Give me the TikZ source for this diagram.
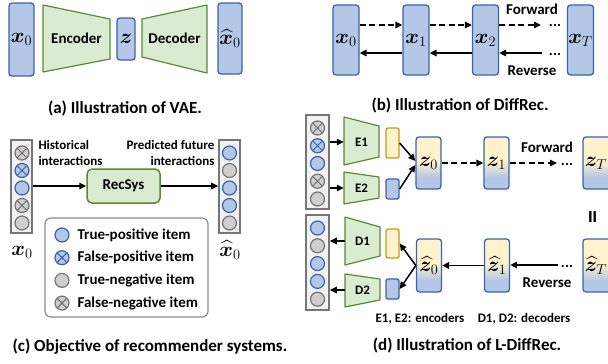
\documentclass[tikz,border=0pt]{standalone}
\usepackage[no-math]{fontspec}
\setmainfont{Carlito}
\usepackage{amsmath}
\usepackage{bm}
\usetikzlibrary{arrows.meta,calc,positioning}

\definecolor{vecfill}{HTML}{B4C7E7}
\definecolor{vecline}{HTML}{3B63AD}
\definecolor{encfill}{HTML}{D9ECD2}
\definecolor{encline}{HTML}{5A8B33}
\definecolor{latfill}{HTML}{FFF2CC}
\definecolor{latline}{HTML}{C49A12}
\definecolor{colfill}{HTML}{F2F2F2}
\definecolor{colline}{HTML}{767676}
\definecolor{negfill}{HTML}{D0CECE}
\definecolor{legline}{HTML}{8C8C8C}

\pgfdeclareverticalshading{zshade}{100bp}{color(0bp)=(vecfill); color(36bp)=(vecfill); color(52bp)=(latfill); color(100bp)=(latfill)}

\begin{document}
\begin{tikzpicture}[x=1pt, y=-1pt, >={Triangle[length=7pt, width=6.5pt]},
    font=\bfseries\fontsize{15}{18}\selectfont,
    vbox/.style={draw=vecline, fill=vecfill, rounded corners=3pt, line width=1.3pt, inner sep=0pt, font=\fontsize{21}{22}\selectfont},
    zbox/.style={draw=vecline, shade, shading=zshade, rounded corners=3pt, line width=1.3pt, inner sep=0pt, minimum width=25, minimum height=52, font=\fontsize{21}{22}\selectfont},
    lat/.style={draw=latline, fill=latfill, rounded corners=2pt, line width=1.3pt, inner sep=0pt, minimum width=13},
    lvec/.style={lat, draw=vecline, fill=vecfill},
    enc/.style={draw=encline, fill=encfill, line width=1.2pt, line join=round},
    col/.style={draw=colline, fill=colfill, line width=1.6pt, inner sep=0pt},
    tpitem/.style={circle, draw=vecline, fill=vecfill, line width=1.2pt, minimum size=14, inner sep=0pt},
    tnitem/.style={tpitem, draw=colline, fill=negfill},
    crossed/.style={path picture={\draw[#1, line width=1pt] (path picture bounding box.north west) -- (path picture bounding box.south east) (path picture bounding box.north east) -- (path picture bounding box.south west);}},
    fpitem/.style={tpitem, crossed=vecline},
    fnitem/.style={tnitem, crossed=colline!90!black},
    arr/.style={->, line width=1.5pt},
    darr/.style={arr, dash pattern=on 6pt off 3.5pt},
    mathlbl/.style={font=\fontsize{21}{22}\selectfont},
    small/.style={font=\bfseries\fontsize{13}{16}\selectfont},
    captxt/.style={font=\bfseries\fontsize{17}{20}\selectfont}]
\clip (0,0) rectangle (608,364);

% (a) VAE
\node[vbox, minimum width=25, minimum height=73] (ax0) at (21.5,39.5) {$\bm{x}_0$};
\draw[enc] (43,5) -- (110,19) -- (110,59) -- (43,72) -- cycle;
\node (aenc) at (76.5,38.5) {Encoder};
\node[vbox, minimum width=18, minimum height=42] (az) at (126,39) {$\bm{z}$};
\draw[enc] (142,19) -- (207,5) -- (207,73) -- (142,57) -- cycle;
\node (adec) at (174.5,38.5) {Decoder};
\node[vbox, minimum width=24, minimum height=71] (ax0h) at (230,38.5) {$\widehat{\bm{x}}_0$};
\node[captxt] (capa) at (125,108) {(a) Illustration of VAE.};

% (b) DiffRec
\node[vbox, minimum width=26, minimum height=70] (bx0) at (346,40) {$\bm{x}_0$};
\node[vbox, minimum width=26, minimum height=70] (bx1) at (416,40) {$\bm{x}_1$};
\node[vbox, minimum width=26, minimum height=70] (bx2) at (485.5,40) {$\bm{x}_2$};
\node[vbox, minimum width=26, minimum height=70] (bxT) at (580.5,40) {$\bm{x}_T$};
\coordinate (bfend) at (541,25);
\coordinate (brbeg) at (542,53);
\draw[darr] ([yshift=15]bx0.east) -- ([yshift=15]bx1.west);
\draw[darr] ([yshift=15]bx1.east) -- ([yshift=15]bx2.west);
\draw[darr] ([yshift=15]bx2.east) -- (bfend);
\draw[arr] ([yshift=-13]bx1.west) -- ([yshift=-13]bx0.east);
\draw[arr] ([yshift=-13]bx2.west) -- ([yshift=-13]bx1.east);
\draw[arr] (brbeg) -- ([yshift=-13]bx2.east);
\node[anchor=base] (bfdots) at (555,27) {...};
\node[anchor=base] (brdots) at (555,55) {...};
\node (bfwd) at (532,9) {Forward};
\node (brev) at (532,71) {Reverse};
\node[captxt] (capb) at (460,105) {(b) Illustration of DiffRec.};

% (c) recommender systems
\node[col, minimum width=21, minimum height=93] (cin) at (21.5,186.5) {};
\foreach \t [count=\i from 0] in {fnitem,fpitem,tpitem,fnitem,tnitem}
  \node[\t] (cin\i) at (22,{153+17.5*\i}) {};
\node[col, minimum width=21, minimum height=93] (cout) at (229.5,186.5) {};
\foreach \t [count=\i from 0] in {tpitem,tnitem,tpitem,tpitem,tnitem}
  \node[\t] (cout\i) at (229.5,{153+17.5*\i}) {};
\node[draw=encline, fill=encfill, rounded corners=5pt, line width=1.5pt, minimum width=73, minimum height=34] (recsys) at (123.5,186) {RecSys};
\draw[arr] (cin.east |- recsys) -- (recsys.west);
\draw[arr] (recsys.east) -- (cout.west |- recsys);
\node[small, anchor=west, align=left] (chist) at (35,153) {Historical\\interactions};
\node[small, anchor=east, align=right] (cpred) at (218,153) {Predicted future\\interactions};
\node[mathlbl] (cx0) at (22,252) {$\bm{x}_0$};
\node[mathlbl] (cx0h) at (230,250) {$\widehat{\bm{x}}_0$};
\node[draw=legline, rounded corners=6pt, line width=1.2pt, minimum width=163, minimum height=99] (legend) at (126.5,267.5) {};
\foreach \t/\s [count=\i from 0] in {tpitem/True-positive item, fpitem/False-positive item, tnitem/True-negative item, fnitem/False-negative item} {
  \node[\t] (leg\i) at (62,{235+22.7*\i}) {};
  \node[anchor=west] (legt\i) at (74,{235+22.7*\i}) {\s};
}
\node[captxt] (capc) at (150,347) {(c) Objective of recommender systems.};

% (d) L-DiffRec
\node[col, minimum width=23, minimum height=94] (din) at (317.5,162) {};
\foreach \t [count=\i from 0] in {fnitem,fpitem,tpitem,fnitem,tnitem}
  \node[\t] (din\i) at (317.5,{128+17.75*\i}) {};
\node[col, minimum width=23, minimum height=95] (dout) at (317.5,262.5) {};
\foreach \t [count=\i from 0] in {tpitem,tnitem,tpitem,tpitem,tnitem}
  \node[\t] (dout\i) at (317.5,{228+17.8*\i}) {};
\draw[enc] (344,117) -- (379,126) -- (379,157) -- (344,165) -- cycle;
\node[small, minimum width=35] (e1) at (361.5,142) {E1};
\draw[enc] (344,172) -- (379,177) -- (379,198) -- (344,204) -- cycle;
\node[small, minimum width=35] (e2) at (361.5,188) {E2};
\draw[enc] (345,217) -- (380,227) -- (380,256) -- (345,265) -- cycle;
\node[small, minimum width=35] (d1) at (362.5,241) {D1};
\draw[enc] (345,274) -- (380,279) -- (380,300) -- (345,307) -- cycle;
\node[small, minimum width=35] (d2) at (362.5,290) {D2};
\draw[arr] (din.east |- e1) -- (e1.west);
\draw[arr] (din.east |- e2) -- (e2.west);
\draw[arr] (d1.west) -- (dout.east |- d1);
\draw[arr] (d2.west) -- (dout.east |- d2);
\node[lat, minimum height=30] (o1) at (392.5,143) {};
\node[lvec, minimum height=20] (b1) at (392.5,189) {};
\node[lat, minimum height=29] (o2) at (392.5,243.5) {};
\node[lvec, minimum height=20] (b2) at (392.5,289) {};
\node[zbox] (z0) at (428.5,163) {$\bm{z}_0$};
\node[zbox] (z1) at (496.5,163) {$\bm{z}_1$};
\node[zbox, minimum width=30] (zT) at (598,163) {\hspace*{-4pt}$\bm{z}_T$};
\node[zbox, minimum height=53] (zh0) at (429,265.5) {$\widehat{\bm{z}}_0$};
\node[zbox, minimum height=53] (zh1) at (497,265.5) {$\widehat{\bm{z}}_1$};
\node[zbox, minimum width=30, minimum height=53] (zhT) at (598,265.5) {\hspace*{-4pt}$\widehat{\bm{z}}_T$};
\draw[arr] (o1.east) -- ([yshift=2]z0.west);
\draw[arr] (b1.east) -- ([yshift=-2]z0.west);
\draw[arr] (zh0.west) -- (o2.east);
\draw[arr] (zh0.west) -- (b2.east);
\coordinate (zfend) at (557,163);
\coordinate (zrbeg) at (558,265);
\draw[darr] (z0) -- (z1);
\draw[darr] (z1.east) -- (zfend);
\draw[arr] (zh1) -- (zh0);
\draw[arr] (zrbeg) -- (zh1.east |- zrbeg);
\node[anchor=base] (zfdots) at (567,165) {...};
\node[anchor=base] (zrdots) at (567,267) {...};
\node (zfwd) at (547,147) {Forward};
\node (zrev) at (547,283) {Reverse};
\node[font=\bfseries\fontsize{26}{26}\selectfont, rotate=90, inner sep=0pt] (zeq) at (595,217) {=};
\node[small] (dkeye) at (420,319) {E1, E2: encoders};
\node[small] (dkeyd) at (524,319) {D1, D2: decoders};
\node[captxt] (capd) at (467,345) {(d) Illustration of L-DiffRec.};
\end{tikzpicture}
\end{document}
